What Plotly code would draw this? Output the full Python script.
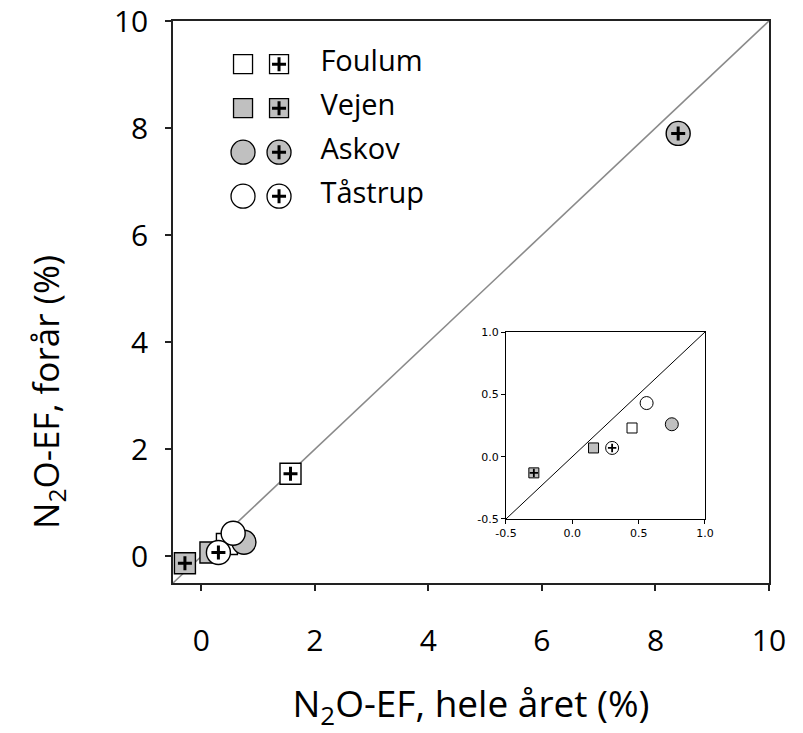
import plotly.graph_objects as go

# ---------------- data ----------------
sites = ["Foulum", "Vejen", "Askov", "Tåstrup"]
symbols = ["square", "square", "circle", "circle"]
fills = ["white", "#c0c0c0", "#c0c0c0", "white"]

# open symbols (without +)
x_open = [0.45, 0.16, 0.75, 0.56]
y_open = [0.23, 0.07, 0.26, 0.43]
# symbols with +
x_plus = [1.57, -0.29, 8.40, 0.30]
y_plus = [1.54, -0.13, 7.90, 0.07]

main_ticks = [0, 2, 4, 6, 8, 10]
main_range = [-0.5, 10]
inset_ticks = [-0.5, 0.0, 0.5, 1.0]
inset_ticklabels = ["-0.5", "0.0", "0.5", "1.0"]
inset_range = [-0.5, 1.0]

FONT = "Open Sans"
EDGE = "black"

fig = go.Figure()

def add_points(xs, ys, xa, ya, sq_size, ci_size, lw):
    for i, s in enumerate(sites):
        size = sq_size if symbols[i] == "square" else ci_size
        fig.add_trace(go.Scatter(
            x=[xs[i]], y=[ys[i]], mode="markers", xaxis=xa, yaxis=ya,
            marker=dict(symbol=symbols[i], size=size, color=fills[i],
                        line=dict(color=EDGE, width=lw)),
            showlegend=False, hoverinfo="skip"))

def add_plus(xs, ys, xa, ya, sq_size, ci_size, plus_size, plus_w, lw):
    for i, s in enumerate(sites):
        size = sq_size if symbols[i] == "square" else ci_size
        fig.add_trace(go.Scatter(
            x=[xs[i]], y=[ys[i]], mode="markers", xaxis=xa, yaxis=ya,
            marker=dict(symbol=symbols[i], size=size, color=fills[i],
                        line=dict(color=EDGE, width=lw)),
            showlegend=False, hoverinfo="skip"))
        fig.add_trace(go.Scatter(
            x=[xs[i]], y=[ys[i]], mode="markers", xaxis=xa, yaxis=ya,
            marker=dict(symbol="cross-thin", size=plus_size, color="black",
                        line=dict(color="black", width=plus_w)),
            showlegend=False, hoverinfo="skip"))

# ---------- main plot ----------
fig.add_trace(go.Scatter(x=main_range, y=main_range, mode="lines",
                         line=dict(color="#8a8a8a", width=1.6),
                         showlegend=False, hoverinfo="skip"))
add_points(x_open, y_open, "x", "y", 21, 24, 1.4)
add_plus(x_plus, y_plus, "x", "y", 21, 24, 10, 3, 1.4)

# ---------- inset ----------
fig.add_trace(go.Scatter(x=inset_range, y=inset_range, mode="lines",
                         xaxis="x2", yaxis="y2",
                         line=dict(color="black", width=1),
                         showlegend=False, hoverinfo="skip"))
add_points(x_open, y_open, "x2", "y2", 10, 13, 1)
add_plus(x_plus, y_plus, "x2", "y2", 10, 13, 6, 1.8, 1)

# ---------- custom legend (two symbols per site) ----------
rows = list(range(len(sites)))
for i, s in enumerate(sites):
    size = 19 if symbols[i] == "square" else 24
    for col in (0, 1):
        fig.add_trace(go.Scatter(
            x=[col], y=[rows[i]], mode="markers", xaxis="x3", yaxis="y3",
            marker=dict(symbol=symbols[i], size=size, color=fills[i],
                        line=dict(color=EDGE, width=1.3)),
            showlegend=False, hoverinfo="skip", cliponaxis=False))
    fig.add_trace(go.Scatter(
        x=[1], y=[rows[i]], mode="markers", xaxis="x3", yaxis="y3",
        marker=dict(symbol="cross-thin", size=10, color="black",
                    line=dict(color="black", width=3)),
        showlegend=False, hoverinfo="skip", cliponaxis=False))
fig.add_trace(go.Scatter(
    x=[2.15] * len(sites), y=rows, mode="text", text=sites,
    textposition="middle right", xaxis="x3", yaxis="y3",
    textfont=dict(family=FONT, size=29, color="black"),
    showlegend=False, hoverinfo="skip", cliponaxis=False))

axis_common = dict(showgrid=False, zeroline=False, showline=True,
                   linecolor="#222", linewidth=1.5, mirror=True,
                   ticks="outside", ticklen=6, tickwidth=1.5, tickcolor="#222",
                   ticklabeloverflow="allow", automargin=False)

fig.update_layout(
    width=803, height=733,
    margin=dict(l=173, r=34, t=21, b=150, autoexpand=False),
    paper_bgcolor="white", plot_bgcolor="white",
    font=dict(family=FONT, color="black"),
    xaxis=dict(range=main_range, tickvals=main_ticks, domain=[0, 1],
               tickfont=dict(size=30), ticklabelstandoff=24,
               title=dict(text="N<sub>2</sub>O-EF, hele året (%)",
                          font=dict(size=37), standoff=33),
               **axis_common),
    yaxis=dict(range=main_range, tickvals=main_ticks, domain=[0, 1],
               tickfont=dict(size=30), ticklabelstandoff=11,
               **axis_common),
    xaxis2=dict(range=inset_range, tickvals=inset_ticks, ticktext=inset_ticklabels,
                domain=[0.5587, 0.8926], anchor="y2", automargin=False,
                tickfont=dict(family="DejaVu Sans", size=11),
                showgrid=False, zeroline=False, showline=True, linecolor="black",
                linewidth=1, mirror=True, ticks="outside", ticklen=4, tickcolor="black"),
    yaxis2=dict(range=inset_range, tickvals=inset_ticks, ticktext=inset_ticklabels,
                domain=[0.1139, 0.4466], anchor="x2", automargin=False,
                tickfont=dict(family="DejaVu Sans", size=11),
                showgrid=False, zeroline=False, showline=True, linecolor="black",
                linewidth=1, mirror=True, ticks="outside", ticklen=4, tickcolor="black"),
    xaxis3=dict(range=[-1, 3], domain=[0.0571, 0.2987], anchor="y3", visible=False),
    yaxis3=dict(range=[3.45, -0.55], domain=[0.6530, 0.9662], anchor="x3", visible=False),
    annotations=[dict(text="N<sub>2</sub>O-EF, forår (%)", textangle=-90,
                      xref="paper", yref="paper", x=-0.2097, y=0.340,
                      xanchor="center", yanchor="middle", showarrow=False,
                      font=dict(family=FONT, size=35, color="black"))],
)

fig.write_html("out.html")
